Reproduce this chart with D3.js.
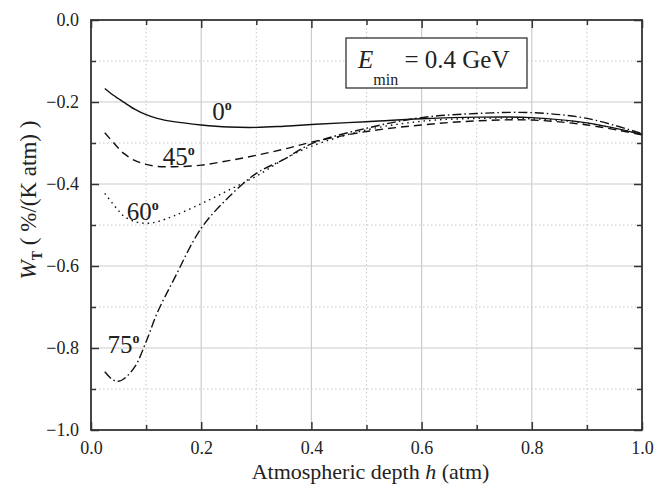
<!DOCTYPE html>
<html>
<head>
<meta charset="utf-8">
<script src="https://cdn.jsdelivr.net/npm/d3@7"></script>
<style>
  body { margin: 0; background: #fff; }
</style>
</head>
<body>
<svg id="chart" width="667" height="489"></svg>
<script>
// atmospheric depth h (atm), shared by all curves
const depth = [0.025, 0.04, 0.05, 0.06, 0.08, 0.1, 0.12, 0.15, 0.2, 0.25, 0.3, 0.35, 0.4, 0.5, 0.6, 0.7, 0.8, 0.9, 1.0];

// W_T (%/(K atm)) per zenith angle
const w0  = [-0.167, -0.183, -0.192, -0.201, -0.218, -0.231, -0.240, -0.248, -0.256, -0.261, -0.262, -0.259, -0.255, -0.248, -0.241, -0.237, -0.238, -0.251, -0.279];
const w45 = [-0.275, -0.298, -0.313, -0.326, -0.343, -0.352, -0.357, -0.358, -0.354, -0.343, -0.330, -0.315, -0.298, -0.272, -0.256, -0.246, -0.244, -0.256, -0.280];
const w60 = [-0.423, -0.449, -0.465, -0.479, -0.492, -0.496, -0.492, -0.478, -0.448, -0.415, -0.381, -0.340, -0.308, -0.268, -0.247, -0.240, -0.241, -0.252, -0.279];
const w75 = [-0.858, -0.878, -0.881, -0.875, -0.845, -0.785, -0.715, -0.634, -0.508, -0.432, -0.374, -0.340, -0.302, -0.264, -0.238, -0.228, -0.226, -0.240, -0.277];

const angles = ["0", "45", "60", "75"];
const xTicks = [0, 0.2, 0.4, 0.6, 0.8, 1.0];
const yTicks = [0, -0.2, -0.4, -0.6, -0.8, -1.0];

const width = 667, height = 489;
const margin = { top: 20, right: 25, bottom: 59, left: 91 };
const innerW = width - margin.left - margin.right;
const innerH = height - margin.top - margin.bottom;
const serif = "Liberation Serif, Tinos, DejaVu Serif";

const svg = d3.select("#chart").attr("font-family", serif);
const g = svg.append("g").attr("transform", `translate(${margin.left},${margin.top})`);

const x = d3.scaleLinear().domain([0, 1]).range([0, innerW]);
const y = d3.scaleLinear().domain([-1, 0]).range([innerH, 0]);

const minorX = d3.range(0.1, 1, 0.2);
const minorY = d3.range(-0.1, -1, -0.2);

// grid: dotted minor, solid major
g.append("g").selectAll("line").data(minorX).join("line")
  .attr("x1", d => x(d)).attr("x2", d => x(d)).attr("y1", 0).attr("y2", innerH)
  .attr("stroke", "#c8c8c8").attr("stroke-dasharray", "1.5,2.5");
g.append("g").selectAll("line").data(minorY).join("line")
  .attr("y1", d => y(d)).attr("y2", d => y(d)).attr("x1", 0).attr("x2", innerW)
  .attr("stroke", "#c8c8c8").attr("stroke-dasharray", "1.5,2.5");
g.append("g").selectAll("line").data(xTicks.slice(1, -1)).join("line")
  .attr("x1", d => x(d)).attr("x2", d => x(d)).attr("y1", 0).attr("y2", innerH)
  .attr("stroke", "#cccccc").attr("stroke-width", 1.2);
g.append("g").selectAll("line").data(yTicks.slice(1, -1)).join("line")
  .attr("y1", d => y(d)).attr("y2", d => y(d)).attr("x1", 0).attr("x2", innerW)
  .attr("stroke", "#cccccc").attr("stroke-width", 1.2);

// axes
const axisStyle = sel => {
  sel.attr("font-family", serif).attr("font-size", 18);
  sel.select(".domain").remove();
  sel.selectAll("line").attr("stroke", "#333").attr("stroke-width", 1.5);
  sel.selectAll("text").attr("fill", "#222");
};

g.append("g").attr("transform", `translate(0,${innerH})`)
  .call(d3.axisBottom(x).tickValues(xTicks).tickSize(-8).tickPadding(11).tickFormat(d3.format(".1f")))
  .call(axisStyle);
g.append("g").attr("transform", `translate(0,${innerH})`)
  .call(d3.axisBottom(x).tickValues(minorX).tickSize(-5).tickFormat(""))
  .call(axisStyle);
g.append("g")
  .call(d3.axisLeft(y).tickValues(yTicks).tickSize(-8).tickPadding(12).tickFormat(d3.format(".1f")))
  .call(axisStyle);
g.append("g")
  .call(d3.axisLeft(y).tickValues(minorY).tickSize(-5).tickFormat(""))
  .call(axisStyle);
g.append("g").attr("transform", `translate(${innerW},0)`)
  .call(d3.axisRight(y).tickValues(yTicks).tickSize(-8).tickFormat(""))
  .call(axisStyle);
g.append("g").attr("transform", `translate(${innerW},0)`)
  .call(d3.axisRight(y).tickValues(minorY).tickSize(-5).tickFormat(""))
  .call(axisStyle);
g.append("g")
  .call(d3.axisTop(x).tickValues(xTicks).tickSize(-8).tickFormat(""))
  .call(axisStyle);
g.append("g")
  .call(d3.axisTop(x).tickValues(minorX).tickSize(-5).tickFormat(""))
  .call(axisStyle);

// frame
g.append("rect").attr("width", innerW).attr("height", innerH)
  .attr("fill", "none").attr("stroke", "#333").attr("stroke-width", 1.8);

// curves
const series = [
  { angle: angles[0], values: w0,  dash: null,          lx: 0.22,  ly: -0.243 },
  { angle: angles[1], values: w45, dash: "8,5",         lx: 0.13,  ly: -0.354 },
  { angle: angles[2], values: w60, dash: "1.5,4",       lx: 0.065, ly: -0.488 },
  { angle: angles[3], values: w75, dash: "9,3,1.5,3",   lx: 0.03,  ly: -0.813 }
];

const line = d3.line()
  .x((d, i) => x(depth[i]))
  .y(d => y(d))
  .curve(d3.curveCatmullRom.alpha(0.5));

g.selectAll("path.curve").data(series).join("path")
  .attr("class", "curve")
  .attr("d", d => line(d.values))
  .attr("fill", "none")
  .attr("stroke", "#111")
  .attr("stroke-width", 1.4)
  .attr("stroke-dasharray", d => d.dash);

// angle labels
const lbl = g.selectAll("text.angle").data(series).join("text")
  .attr("class", "angle")
  .attr("x", d => x(d.lx))
  .attr("y", d => y(d.ly))
  .attr("font-size", 25).attr("fill", "#222");
lbl.append("tspan").text(d => d.angle);
lbl.append("tspan").attr("dy", -10).attr("font-size", 14).attr("font-weight", "bold").text("o");

// energy box
g.append("rect")
  .attr("x", 346 - margin.left).attr("y", 38 - margin.top)
  .attr("width", 181).attr("height", 50)
  .attr("fill", "#fff").attr("stroke", "#333").attr("stroke-width", 1.3);
const eText = g.append("text")
  .attr("x", 358 - margin.left).attr("y", 68 - margin.top)
  .attr("font-size", 25).attr("fill", "#222");
eText.append("tspan").attr("font-style", "italic").text("E");
eText.append("tspan").attr("dy", 17).attr("font-size", 16).text("min");
eText.append("tspan").attr("dy", -17).text(" = 0.4 GeV");

// axis titles
const xLab = svg.append("text")
  .attr("x", margin.left + innerW / 2 + 4).attr("y", 479)
  .attr("text-anchor", "middle")
  .attr("font-size", 22).attr("fill", "#222");
xLab.append("tspan").text("Atmospheric depth ");
xLab.append("tspan").attr("font-style", "italic").text("h");
xLab.append("tspan").text(" (atm)");

const yLab = svg.append("text")
  .attr("transform", "translate(36,200) rotate(-90)")
  .attr("text-anchor", "middle")
  .attr("font-size", 23).attr("fill", "#222");
yLab.append("tspan").attr("font-style", "italic").text("W");
yLab.append("tspan").attr("dy", 6).attr("font-size", 14).attr("font-weight", "bold").text("T");
yLab.append("tspan").attr("dy", -6).text(" ( %/(K atm) )");
</script>
</body>
</html>
